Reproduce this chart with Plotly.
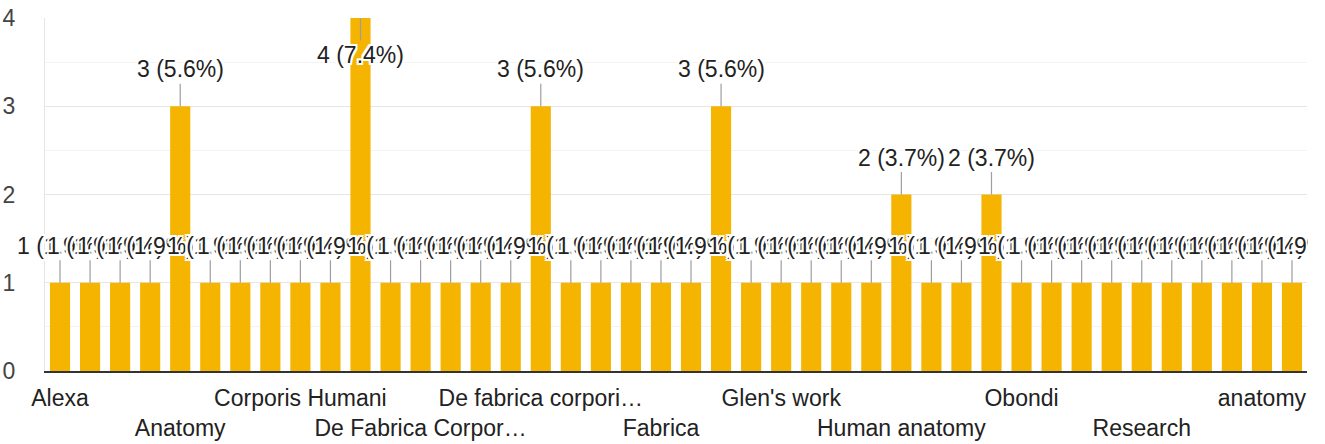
import plotly.graph_objects as go

# ---- data ----
bar_index = list(range(42))
values = [1, 1, 1, 1, 3, 1, 1, 1, 1, 1, 4, 1, 1, 1, 1, 1, 3, 1, 1, 1, 1,
          1, 3, 1, 1, 1, 1, 1, 2, 1, 1, 2, 1, 1, 1, 1, 1, 1, 1, 1, 1, 1]
total_responses = 54
tick_positions = [0, 4, 8, 12, 16, 20, 24, 28, 32, 36, 40]
tick_labels = ["Alexa", "Anatomy", "Corporis Humani", "De Fabrica Corpor…",
               "De fabrica corpori…", "Fabrica", "Glen's work", "Human anatomy",
               "Obondi", "Research", "anatomy"]
y_ticks = [0, 1, 2, 3, 4]

FONT = "Arial, Liberation Sans, sans-serif"
FS = 23
BAR = "#F4B400"

fig = go.Figure()
fig.add_trace(go.Bar(x=bar_index, y=values, marker_color=BAR,
                     marker_line_width=0, hoverinfo="skip"))

halo = ", ".join(f"{dx}px {dy}px 0 #fff" for dx, dy in
                 [(2, 0), (-2, 0), (0, 2), (0, -2), (2, 2), (-2, -2), (2, -2), (-2, 2)])
ymax = max(y_ticks)
annotations = []
for x, v in zip(bar_index, values):
    pct = v / total_responses * 100
    annotations.append(dict(
        x=x, y=v, xref="x", yref="y",
        text=f"{v} ({pct:.1f}%)",
        showarrow=True, arrowhead=0, arrowwidth=1.2, arrowcolor="#9e9e9e",
        ax=0, ay=(37 if v >= ymax else -37), standoff=0,
        font=dict(family=FONT, size=FS, color="#222222", shadow=halo),
    ))

ticktext = [t if i % 2 == 0 else "<br>" + t for i, t in enumerate(tick_labels)]

fig.update_layout(
    width=1325, height=444,
    margin=dict(l=45, r=18, t=18, b=73, autoexpand=False),
    paper_bgcolor="white", plot_bgcolor="white",
    showlegend=False, bargap=0.33,
    font=dict(family=FONT, size=FS, color="#222222"),
    annotations=annotations,
    xaxis=dict(range=[-0.5, 41.5], tickvals=tick_positions, ticktext=ticktext,
               ticks="", ticklen=0, showgrid=False, zeroline=False, tickangle=0,
               automargin=False,
               showline=True, linecolor="#333333", linewidth=2,
               ticklabelstandoff=5,
               tickfont=dict(family=FONT, size=FS, color="#222222")),
    yaxis=dict(range=[0, 4], tickvals=y_ticks, ticks="", ticklen=0, automargin=False,
               showgrid=True, gridcolor="#e6e6e6", gridwidth=1,
               minor=dict(dtick=0.5, showgrid=True, gridcolor="#f3f3f3", gridwidth=1),
               zeroline=False, showline=True, linecolor="#e6e6e6", linewidth=1,
               ticklabelstandoff=24,
               tickfont=dict(family=FONT, size=FS, color="#444444")),
)

post = (
    "document.body.style.margin='0';"
    "try{var gd=document.getElementById('{plot_id}');"
    "gd.style.width='1308px';gd.style.overflow='hidden';}catch(e){}"
)
fig.write_html("out.html", post_script=post,
               config={"displayModeBar": False, "staticPlot": True})
